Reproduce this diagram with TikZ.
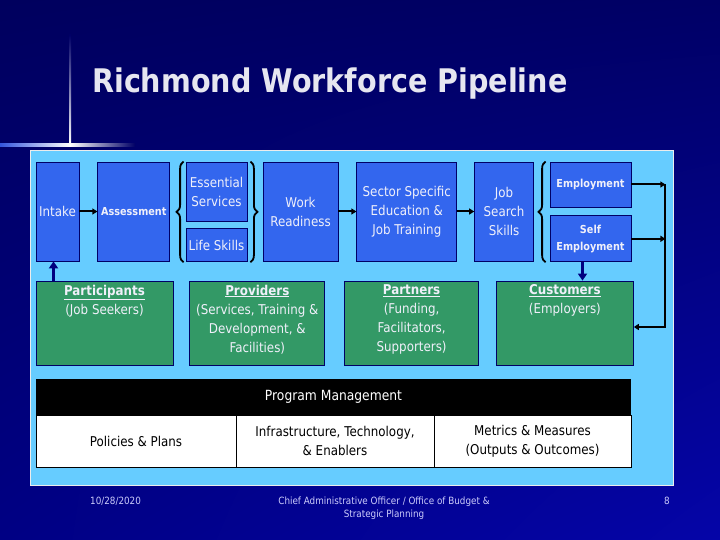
\documentclass[tikz,border=0pt]{standalone}
\usepackage{fontspec}
\setmainfont[FakeStretch=0.88]{DejaVu Sans}
\usepackage{tikz}
\usetikzlibrary{arrows.meta,positioning,decorations.pathreplacing,shadings}

\definecolor{slidenavy}{HTML}{000066}
\definecolor{slidedeep}{HTML}{00005E}
\definecolor{slidelow}{HTML}{000084}
\definecolor{slidebright}{HTML}{0505A8}
\definecolor{panelblue}{HTML}{66CCFF}
\definecolor{stageblue}{HTML}{3366EE}
\definecolor{groupgreen}{HTML}{339966}
\definecolor{boxtext}{HTML}{F0F0FA}
\definecolor{titletext}{HTML}{E6E6F0}
\definecolor{feednavy}{HTML}{000080}
\definecolor{glowblue}{HTML}{3355DD}

\begin{document}
\begin{tikzpicture}[
    x=1pt, y=-1pt,
    >={Triangle[length=5pt,width=6pt]},
    stage/.style={draw=slidenavy, line width=0.8pt, fill=stageblue, text=boxtext, align=center, inner sep=1pt, font=\fontsize{13.5}{19}\selectfont},
    boldstage/.style={stage, font=\bfseries\fontsize{11}{17}\selectfont},
    group/.style={draw=slidenavy, line width=0.8pt, fill=groupgreen, minimum height=84pt, inner sep=0pt},
    grouptext/.style={text=boxtext, align=center, inner sep=1pt, font=\fontsize{13.5}{19}\selectfont},
    cell/.style={draw=black, line width=0.8pt, fill=white, align=center, inner sep=0pt, outer sep=0pt, minimum height=52pt, font=\fontsize{13.5}{19}\selectfont},
    flow/.style={->, line width=2pt},
    feed/.style={-{Triangle[length=7pt,width=9pt]}, draw=feednavy, line width=3pt},
    bracket/.style={decorate, decoration={brace, amplitude=7pt}, line width=1.8pt}
]
\useasboundingbox (0,0) rectangle (720,540);
% slide background and the little light cross
\shade[upper left=slidedeep, upper right=slidenavy, lower left=slidelow, lower right=slidebright] (0,0) rectangle (720,540);
\shade[left color=glowblue, right color=white] (0,144) rectangle (70,146.2);
\shade[left color=white, right color=slidenavy] (70,144) rectangle (135,146.2);
\shade[top color=slidenavy, bottom color=white] (69,35) rectangle (71,145);
\node[font=\bfseries\fontsize{32.5}{38}\selectfont, text=titletext, anchor=base west, inner sep=0pt] (title) at (92,93) {Richmond Workforce Pipeline};

\node[draw=white!85!gray, line width=1pt, fill=panelblue, minimum width=643pt, minimum height=335pt, inner sep=0pt] (panel) at (351.5,318) {};

% pipeline stages
\node[stage, minimum width=43pt, minimum height=99pt] (intake) at (57.5,211.5) {Intake};
\node[boldstage, minimum width=72pt, minimum height=99pt, right=18pt of intake] (assessment) {Assessment};
\node[stage, minimum width=61pt, minimum height=59pt] (essential) at (216.5,191.5) {Essential\\Services};
\node[stage, minimum width=61pt, minimum height=33pt, below=7pt of essential] (lifeskills) {Life Skills};
\node[stage, minimum width=75pt, minimum height=99pt] (work) at (300.5,211.5) {Work\\Readiness};
\node[stage, minimum width=100pt, minimum height=99pt, right=18pt of work] (sector) {Sector Specific\\Education \&\\Job Training};
\node[stage, minimum width=59pt, minimum height=99pt, right=17pt of sector] (jobsearch) {Job\\Search\\Skills};
\node[boldstage, minimum width=81pt, minimum height=45pt] (employment) at (590.5,184.5) {Employment};
\node[boldstage, minimum width=81pt, minimum height=46pt, below=8pt of employment] (selfemp) {Self\\Employment};

% stakeholder groups
\node[group, minimum width=137pt] (participants) at (104.5,323) {};
\node[group, minimum width=135pt, right=16pt of participants] (providers) {};
\node[group, minimum width=134pt, right=19pt of providers] (partners) {};
\node[group, minimum width=137pt, right=17pt of partners] (customers) {};
\node[grouptext, below=3pt of participants.north] (participantsT) {\underline{\textbf{Participants}}\\(Job Seekers)};
\node[grouptext, below=3pt of providers.north] (providersT) {\underline{\textbf{Providers}}\\(Services, Training \&\\Development, \&\\Facilities)};
\node[grouptext, below=3pt of partners.north] (partnersT) {\underline{\textbf{Partners}}\\(Funding,\\Facilitators,\\Supporters)};
\node[grouptext, below=3pt of customers.north] (customersT) {\underline{\textbf{Customers}}\\(Employers)};

% program management table
\node[fill=black, text=white, minimum width=595pt, minimum height=36pt, inner sep=0pt, font=\fontsize{14}{19}\selectfont] (mgmt) at (333.5,397) {Program Management};
\node[cell, minimum width=200pt] (policies) at (136,441) {Policies \& Plans};
\node[cell, minimum width=198pt, right=0pt of policies] (infra) {Infrastructure, Technology,\\\& Enablers};
\node[cell, minimum width=197pt, right=0pt of infra] (metrics) {Metrics \& Measures\\(Outputs \& Outcomes)};

% braces
\draw[bracket] ([xshift=-2pt]lifeskills.south west) -- ([xshift=-2pt]essential.north west);
\draw[bracket] ([xshift=3pt]essential.north east) -- ([xshift=3pt]lifeskills.south east);
\draw[bracket] ([xshift=-4pt]selfemp.south west) -- ([xshift=-4pt]employment.north west);

% connectors
\coordinate (bus) at ([xshift=34pt]employment.east);
\coordinate (custin) at ([yshift=-4pt]customers.east);
\draw[flow] (intake) -- (assessment);
\draw[flow] (work) -- (sector);
\draw[flow] (sector) -- (jobsearch);
\draw[flow] (employment) -- (employment -| bus);
\draw[flow] (selfemp) -- (selfemp -| bus);
\draw[flow] (bus |- employment) -- (bus |- custin) -- (custin);
\draw[feed] ([xshift=-8pt]selfemp.south) -- ([xshift=-8pt]selfemp.south |- customers.north);
\draw[feed] ([xshift=-4pt]intake.south |- participants.north) -- ([xshift=-4pt]intake.south);

% footer
\node[text=boxtext!85!blue, font=\fontsize{10}{13}\selectfont, anchor=base west, inner sep=0pt] (date) at (90,504) {10/28/2020};
\node[text=boxtext!85!blue, font=\fontsize{10}{13}\selectfont, align=center, inner sep=0pt] (office) at (384,508) {Chief Administrative Officer / Office of Budget \&\\Strategic Planning};
\node[text=boxtext!85!blue, font=\fontsize{10}{13}\selectfont, anchor=base, inner sep=0pt] (page) at (667,504) {8};
\end{tikzpicture}
\end{document}
